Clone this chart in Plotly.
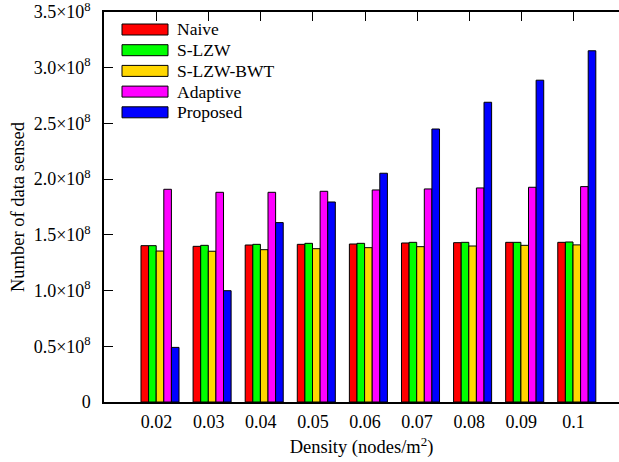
import plotly.graph_objects as go

densities = ["0.02", "0.03", "0.04", "0.05", "0.06", "0.07", "0.08", "0.09", "0.1"]
series_names = ["Naive", "S-LZW", "S-LZW-BWT", "Adaptive", "Proposed"]
naive = [1.403e8, 1.397e8, 1.409e8, 1.415e8, 1.418e8, 1.427e8, 1.430e8, 1.433e8, 1.433e8]
s_lzw = [1.403e8, 1.406e8, 1.415e8, 1.424e8, 1.424e8, 1.433e8, 1.433e8, 1.433e8, 1.436e8]
s_lzw_bwt = [1.355e8, 1.353e8, 1.367e8, 1.376e8, 1.385e8, 1.394e8, 1.400e8, 1.406e8, 1.410e8]
adaptive = [1.909e8, 1.882e8, 1.882e8, 1.891e8, 1.903e8, 1.912e8, 1.921e8, 1.927e8, 1.933e8]
proposed = [0.49e8, 0.999e8, 1.61e8, 1.795e8, 2.053e8, 2.45e8, 2.69e8, 2.888e8, 3.152e8]
y_tickvals = [0, 0.5e8, 1.0e8, 1.5e8, 2.0e8, 2.5e8, 3.0e8, 3.5e8]
y_ticktext = ["0", "0.5×10<sup>8</sup>", "1.0×10<sup>8</sup>", "1.5×10<sup>8</sup>",
              "2.0×10<sup>8</sup>", "2.5×10<sup>8</sup>", "3.0×10<sup>8</sup>", "3.5×10<sup>8</sup>"]

colors = ["#ff0000", "#00ff00", "#ffd700", "#ff00ff", "#0000ff"]
all_series = [naive, s_lzw, s_lzw_bwt, adaptive, proposed]

FONT = "Liberation Serif, Times New Roman, serif"
W, H = 619, 462
L, R, T, B = 104, 0, 12, 60
pw, ph = W - L - R, H - T - B

bar_w = 0.146
start = -0.30
y_top = 3.5e8 * 1.00002

fig = go.Figure()
for i, (name, vals, c) in enumerate(zip(series_names, all_series, colors)):
    fig.add_trace(go.Bar(
        x=densities, y=vals, name=name,
        marker=dict(color=c, line=dict(color="black", width=1)),
        width=bar_w, offset=start + i * bar_w,
        showlegend=False,
    ))

# manual legend with wide swatches
for i, (name, c) in enumerate(zip(series_names, colors)):
    yc = 29.5 + 20.7 * i
    fig.add_shape(type="rect", xref="paper", yref="paper",
                  x0=(122 - L) / pw, x1=(168 - L) / pw,
                  y0=1 - (yc + 5.5 - T) / ph, y1=1 - (yc - 5.5 - T) / ph,
                  fillcolor=c, line=dict(color="black", width=1))
    fig.add_annotation(x=(175 - L) / pw, y=1 - (yc - T) / ph, xref="paper", yref="paper",
                       text=name, showarrow=False, xanchor="left", yanchor="middle",
                       font=dict(family=FONT, size=17.5, color="black"))

fig.update_layout(
    width=W, height=H,
    margin=dict(l=L, r=R, t=T, b=B, pad=0),
    plot_bgcolor="white", paper_bgcolor="white",
    barmode="overlay",
    font=dict(family=FONT, size=18, color="black"),
    xaxis=dict(
        type="category", range=[-1.01, 8.875],
        showline=True, linecolor="black", linewidth=1.5, mirror="ticks",
        ticks="inside", ticklen=9, tickcolor="black",
        ticklabelstandoff=3,
        showgrid=False, zeroline=False, layer="below traces",
        title=dict(text="Density (nodes/m<sup>2</sup>)", standoff=9,
                   font=dict(family=FONT, size=18.5)),
        tickfont=dict(family=FONT, size=18),
    ),
    yaxis=dict(
        range=[0, y_top], tickvals=y_tickvals, ticktext=y_ticktext,
        showline=True, linecolor="black", linewidth=1.5, mirror=False,
        ticks="inside", ticklen=9, tickcolor="black",
        ticklabelstandoff=8, ticklabeloverflow="allow",
        showgrid=False, zeroline=False, layer="below traces",
        title=dict(text="Number of data sensed", standoff=4,
                   font=dict(family=FONT, size=18.5)),
        tickfont=dict(family=FONT, size=18),
    ),
    yaxis2=dict(
        overlaying="y", side="right", anchor="x",
        range=[0, y_top], tickvals=y_tickvals,
        showticklabels=False, showline=False, showgrid=False, zeroline=False,
        ticks="inside", ticklen=3, tickcolor="black",
    ),
)

fig.write_html("out.html")
